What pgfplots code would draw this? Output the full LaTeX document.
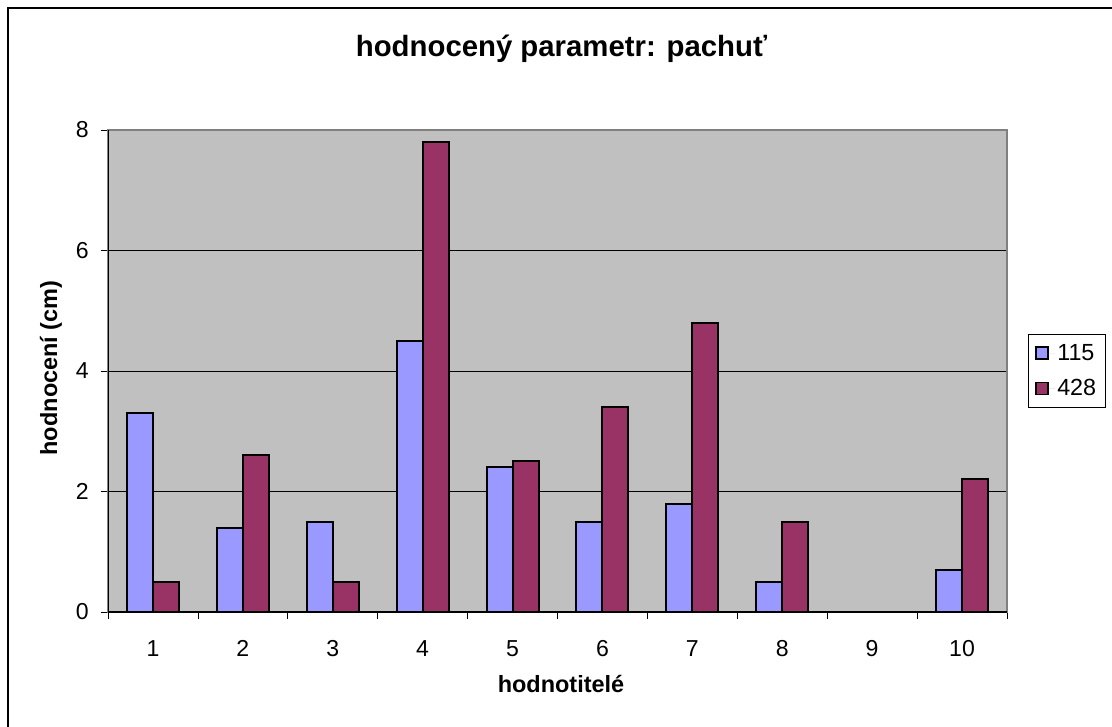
\documentclass[border=0pt]{standalone}
\usepackage{pgfplots}
\pgfplotsset{compat=1.18}
\usepackage{fontspec}
\setmainfont{Liberation Sans}

\definecolor{barblue}{HTML}{9999FF}
\definecolor{barred}{HTML}{993366}
\definecolor{plotgray}{HTML}{C0C0C0}
\definecolor{framegray}{HTML}{808080}

\begin{document}
\begin{tikzpicture}[x=0.75pt,y=-0.75pt]
\useasboundingbox (0,0) rectangle (1112,727);
% outer chart frame (only left and top edges are inside the picture)
\draw[line width=1.5pt] (8,727) -- (8,8) -- (1112,8);

\begin{axis}[
  at={(81pt,-459pt)}, anchor=south west,
  scale only axis, width=674.25pt, height=361.5pt,
  ybar=0pt, bar width=19.5pt,
  xmin=0.5, xmax=10.5, ymin=0, ymax=8,
  xtick={1,...,10},
  minor xtick={0.5,1.5,...,10.5},
  ytick={0,2,4,6,8},
  xtick pos=bottom, ytick pos=left,
  tick align=outside,
  major tick length=5pt, minor tick length=5.25pt,
  major x tick style={draw=none},
  minor x tick style={black, line width=0.6pt},
  ytick style={black, line width=0.6pt},
  /pgf/number format/assume math mode=true,
  tick label style={font=\fontsize{17.3}{20}\selectfont},
  xticklabel style={anchor=base, yshift=-28.5pt},
  yticklabel style={anchor=east, xshift=-6pt},
  axis background/.style={fill=plotgray},
  axis line style={draw=framegray, line width=1.5pt},
  ymajorgrids, grid style={black, line width=0.6pt},
  legend style={at={(1.0234,0.5768)}, anchor=north west,
    draw=black, line width=0.6pt,
    font=\fontsize{17.5}{20}\selectfont,
    inner xsep=5.25pt, inner ysep=5.75pt, row sep=10pt,
    nodes={inner sep=1.5pt}},
  legend cell align=left,
  legend image code/.code={%
    \draw[#1,line width=1.2pt] (0pt,-4.5pt) rectangle (9pt,4.5pt);
    \path[draw=none] (0pt,0pt) -- (14.25pt,0pt);},
]
\addplot[fill=barblue, draw=black, line width=1.5pt] coordinates {
  (1,3.3) (2,1.4) (3,1.5) (4,4.5) (5,2.4) (6,1.5) (7,1.8) (8,0.5) (9,0) (10,0.7)
};
\addlegendentry{115}
\addplot[fill=barred, draw=black, line width=1.5pt] coordinates {
  (1,0.5) (2,2.6) (3,0.5) (4,7.8) (5,2.5) (6,3.4) (7,4.8) (8,1.5) (9,0) (10,2.2)
};
\addlegendentry{428}
\draw[black, line width=0.8pt] (rel axis cs:0,1) -- (rel axis cs:0,0) -- (rel axis cs:1,0);
\end{axis}

\node[font=\fontsize{22}{26}\selectfont\bfseries, anchor=base] at (561.5,57) {hodnocený parametr: pachuť};
\node[font=\fontsize{17.6}{21}\selectfont\bfseries, anchor=base] at (561,692) {hodnotitelé};
\node[font=\fontsize{17.6}{21}\selectfont\bfseries, anchor=base, rotate=90] at (57,368) {hodnocení (cm)};
\end{tikzpicture}
\end{document}
